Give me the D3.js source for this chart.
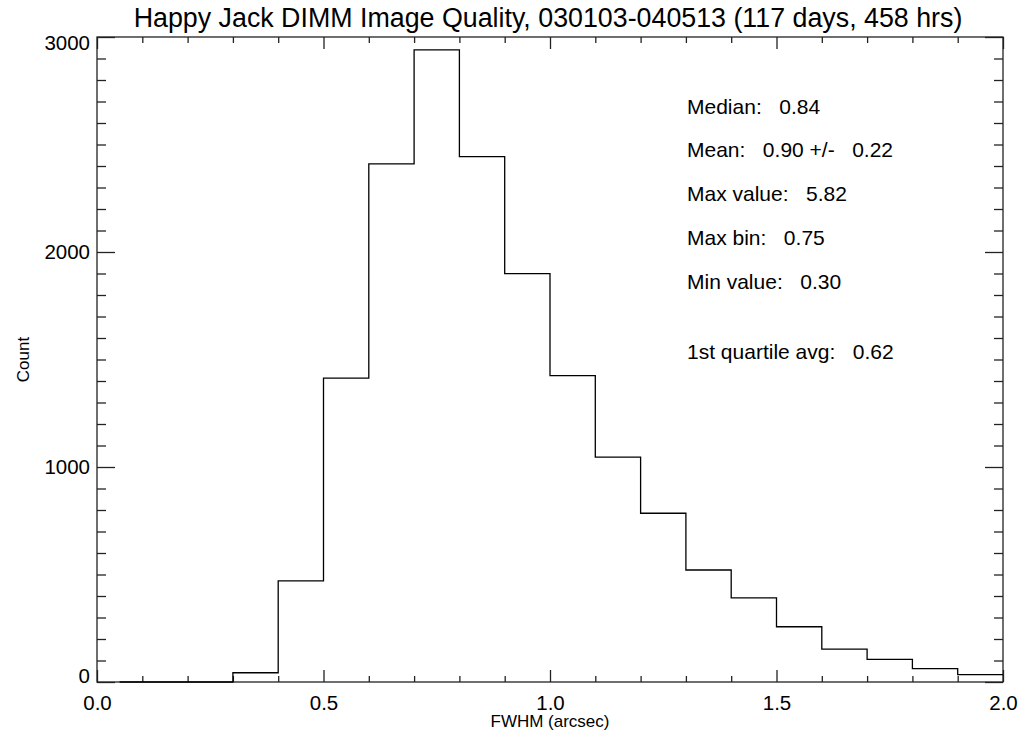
<!DOCTYPE html>
<html>
<head>
<meta charset="utf-8">
<script src="https://cdn.jsdelivr.net/npm/d3@7"></script>
<style>
  body { margin: 0; background: #fff; }
  svg { display: block; font-family: "Liberation Sans", Arial, Helvetica, sans-serif; }
  .axis path, .axis line { stroke: #222; stroke-width: 1.3; }
  .axis text { font-size: 20.5px; fill: #000; font-family: "Liberation Sans", Arial, sans-serif; }
  .stats text { white-space: pre; }
</style>
</head>
<body>
<div id="chart"></div>
<script>
// histogram of FWHM, bins of 0.1 arcsec starting at 0.0
var binStarts = [0.0, 0.1, 0.2, 0.3, 0.4, 0.5, 0.6, 0.7, 0.8, 0.9,
                 1.0, 1.1, 1.2, 1.3, 1.4, 1.5, 1.6, 1.7, 1.8, 1.9];
var counts = [0, 0, 0, 43, 470, 1413, 2410, 2940, 2444, 1899,
              1425, 1046, 785, 521, 391, 257, 153, 105, 62, 34];
var binWidth = 0.1;

var xMajor = [0.0, 0.5, 1.0, 1.5, 2.0];
var xMajorLabels = ["0.0", "0.5", "1.0", "1.5", "2.0"];
var yMajor = [0, 1000, 2000, 3000];
var yMajorLabels = ["0", "1000", "2000", "3000"];

var statLines = [
  "Median:   0.84",
  "Mean:   0.90 +/-   0.22",
  "Max value:   5.82",
  "Max bin:   0.75",
  "Min value:   0.30",
  "",
  "1st quartile avg:   0.62"
];

var titleText = "Happy Jack DIMM Image Quality, 030103-040513 (117 days, 458 hrs)";
var xTitle = "FWHM (arcsec)";
var yTitle = "Count";

var W = 1021, H = 738;
// note: "top" is taken by window.top, so prefix the plot box names
var pLeft = 97, pRight = 1003, pTop = 37, pBottom = 682;

var svg = d3.select("#chart").append("svg")
    .attr("width", W).attr("height", H);

var x = d3.scaleLinear().domain([0, 2]).range([pLeft, pRight]);
var y = d3.scaleLinear().domain([0, 3000]).range([pBottom, pTop]);

var xMinor = d3.range(0, 21).map(d => d / 10).filter(d => xMajor.indexOf(d) < 0);
var yMinor = d3.range(0, 31).map(d => d * 100).filter(d => yMajor.indexOf(d) < 0);

function addAxis(axis, tx, ty) {
    var g = svg.append("g").attr("class", "axis")
        .attr("transform", "translate(" + tx + "," + ty + ")")
        .call(axis);
    g.select(".domain").remove();
    return g;
}

// bottom
addAxis(d3.axisBottom(x).tickValues(xMajor).tickSize(-12).tickPadding(13)
        .tickFormat((d, i) => xMajorLabels[i]), 0, pBottom);
addAxis(d3.axisBottom(x).tickValues(xMinor).tickSize(-6).tickFormat(""), 0, pBottom);
// top
addAxis(d3.axisTop(x).tickValues(xMajor).tickSize(-12).tickFormat(""), 0, pTop);
addAxis(d3.axisTop(x).tickValues(xMinor).tickSize(-6).tickFormat(""), 0, pTop);
// left
var yl = addAxis(d3.axisLeft(y).tickValues(yMajor).tickSize(-18).tickPadding(7)
        .tickFormat((d, i) => yMajorLabels[i]), pLeft, 0);
yl.selectAll("text").attr("dy", d => d === 0 ? "0.02em" : d === 3000 ? "0.6em" : "0.32em");
addAxis(d3.axisLeft(y).tickValues(yMinor).tickSize(-9).tickFormat(""), pLeft, 0);
// right
addAxis(d3.axisRight(y).tickValues(yMajor).tickSize(-18).tickFormat(""), pRight, 0);
addAxis(d3.axisRight(y).tickValues(yMinor).tickSize(-9).tickFormat(""), pRight, 0);

// frame
svg.append("rect")
    .attr("x", pLeft).attr("y", pTop)
    .attr("width", pRight - pLeft).attr("height", pBottom - pTop)
    .attr("fill", "none").attr("stroke", "#222").attr("stroke-width", 1.3);

// histogram step outline (psym=10 style, starts at first bin centre)
var pts = [[binStarts[0] + binWidth / 2, counts[0]]];
counts.forEach(function(c, i) {
    pts.push([binStarts[i], c]);
    pts.push([binStarts[i] + binWidth, c]);
});
pts = pts.filter(p => p[0] >= binStarts[0] + binWidth / 2);
svg.append("path")
    .attr("d", d3.line().x(p => x(p[0])).y(p => y(p[1]))(pts))
    .attr("fill", "none")
    .attr("stroke", "#000")
    .attr("stroke-width", 1.3);

// titles
svg.append("text")
    .attr("x", 548).attr("y", 27)
    .attr("text-anchor", "middle")
    .style("font-size", "26.8px")
    .text(titleText);

svg.append("text")
    .attr("x", (pLeft + pRight) / 2).attr("y", 727)
    .attr("text-anchor", "middle")
    .style("font-size", "17px")
    .text(xTitle);

svg.append("text")
    .attr("transform", "translate(29," + (pTop + pBottom) / 2 + ") rotate(-90)")
    .attr("text-anchor", "middle")
    .style("font-size", "17px")
    .text(yTitle);

// statistics block
var statY = [114, 157, 201, 245, 289, 0, 359];
svg.append("g").attr("class", "stats")
  .selectAll("text")
  .data(statLines)
  .join("text")
    .attr("x", 687)
    .attr("y", (d, i) => statY[i])
    .style("font-size", "21px")
    .text(d => d);
</script>
</body>
</html>
